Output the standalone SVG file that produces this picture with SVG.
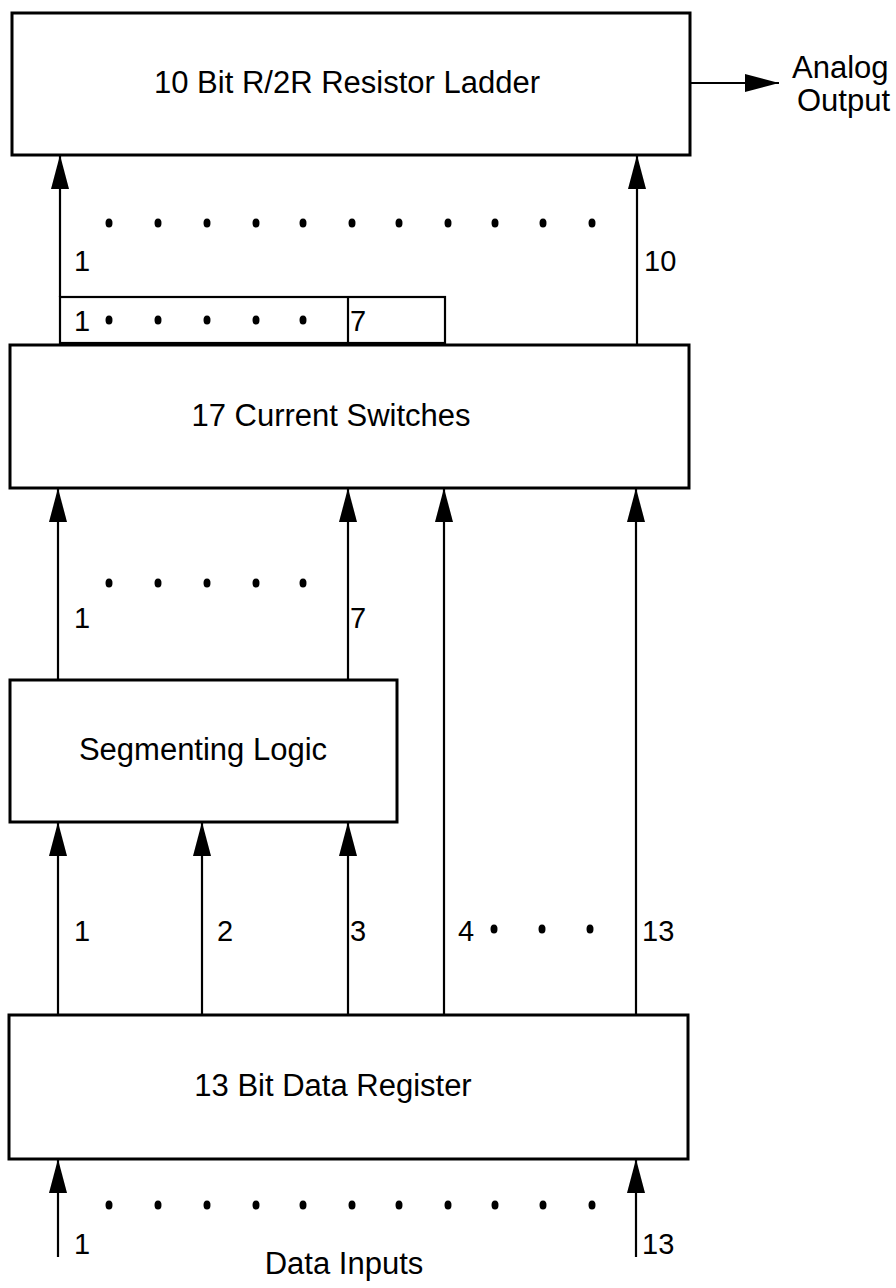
<svg xmlns="http://www.w3.org/2000/svg" width="896" height="1288" viewBox="0 0 896 1288">
  <style>
    .box { fill: #fff; stroke: #000; stroke-width: 3; }
    .wire { fill: none; stroke: #000; stroke-width: 2.2; }
    .title { font-family: "Liberation Sans", Arial, sans-serif; font-size: 31px; fill: #000; text-anchor: middle; }
    .lbl { font-family: "Liberation Sans", Arial, sans-serif; font-size: 29px; fill: #000; }
    .dot { fill: #000; }
  </style>
  <defs>
    <marker id="head" viewBox="0 0 34 18" refX="34" refY="9" markerWidth="34" markerHeight="18" markerUnits="userSpaceOnUse" orient="auto">
      <path d="M0,0 L34,9 L0,18 Z" fill="#000"/>
    </marker>
    <g id="dot"><ellipse class="dot" cx="0" cy="0" rx="3.5" ry="4.5"/></g>
  </defs>

  <!-- blocks -->
  <g id="ladder">
    <rect class="box" x="12" y="13" width="678" height="142"/>
    <text class="title" x="347" y="93">10 Bit R/2R Resistor Ladder</text>
  </g>
  <g id="analog-output">
    <text class="lbl" x="792" y="78" style="font-size:31px">Analog</text>
    <text class="lbl" x="797" y="111" style="font-size:31px">Output</text>
  </g>
  <g id="tap-box">
    <rect class="box" x="60" y="297" width="385" height="46" style="stroke-width:2.2"/>
    <line class="wire" x1="348" y1="297" x2="348" y2="343"/>
    <text class="lbl" x="74" y="331">1</text>
    <text class="lbl" x="350" y="331">7</text>
    <use href="#dot" x="109" y="320"/>
    <use href="#dot" x="158" y="320"/>
    <use href="#dot" x="207" y="320"/>
    <use href="#dot" x="256" y="320"/>
    <use href="#dot" x="303" y="320"/>
  </g>
  <g id="switches">
    <rect class="box" x="10" y="345" width="679" height="143"/>
    <text class="title" x="331" y="426">17 Current Switches</text>
  </g>
  <g id="segmenting">
    <rect class="box" x="10" y="680" width="387" height="142"/>
    <text class="title" x="203" y="760">Segmenting Logic</text>
  </g>
  <g id="register">
    <rect class="box" x="9" y="1015" width="679" height="144"/>
    <text class="title" x="333" y="1096">13 Bit Data Register</text>
  </g>

  <!-- connectors -->
  <g id="connectors">
    <line class="wire" x1="690" y1="83" x2="779" y2="83" marker-end="url(#head)"/>
    <line class="wire" x1="60" y1="297" x2="60" y2="155" marker-end="url(#head)"/>
    <line class="wire" x1="637" y1="345" x2="637" y2="155" marker-end="url(#head)"/>

    <line class="wire" x1="58" y1="680" x2="58" y2="488" marker-end="url(#head)"/>
    <line class="wire" x1="348" y1="680" x2="348" y2="488" marker-end="url(#head)"/>
    <line class="wire" x1="444" y1="1015" x2="444" y2="488" marker-end="url(#head)"/>
    <line class="wire" x1="636" y1="1015" x2="636" y2="488" marker-end="url(#head)"/>

    <line class="wire" x1="58" y1="1015" x2="58" y2="822" marker-end="url(#head)"/>
    <line class="wire" x1="202" y1="1015" x2="202" y2="822" marker-end="url(#head)"/>
    <line class="wire" x1="348" y1="1015" x2="348" y2="822" marker-end="url(#head)"/>

    <line class="wire" x1="58" y1="1257" x2="58" y2="1159" marker-end="url(#head)"/>
    <line class="wire" x1="636" y1="1257" x2="636" y2="1159" marker-end="url(#head)"/>
  </g>

  <!-- bus labels and ellipsis dots -->
  <g id="bus-labels">
    <text class="lbl" x="74" y="271">1</text>
    <text class="lbl" x="644" y="271">10</text>
    <g>
      <use href="#dot" x="109" y="223"/><use href="#dot" x="158" y="223"/><use href="#dot" x="207" y="223"/>
      <use href="#dot" x="256" y="223"/><use href="#dot" x="303" y="223"/><use href="#dot" x="352" y="223"/>
      <use href="#dot" x="399" y="223"/><use href="#dot" x="448" y="223"/><use href="#dot" x="495" y="223"/>
      <use href="#dot" x="543" y="223"/><use href="#dot" x="592" y="223"/>
    </g>

    <text class="lbl" x="74" y="628">1</text>
    <text class="lbl" x="350" y="628">7</text>
    <g>
      <use href="#dot" x="109" y="583"/><use href="#dot" x="158" y="583"/><use href="#dot" x="207" y="583"/>
      <use href="#dot" x="256" y="583"/><use href="#dot" x="303" y="583"/>
    </g>

    <text class="lbl" x="74" y="941">1</text>
    <text class="lbl" x="217" y="941">2</text>
    <text class="lbl" x="350" y="941">3</text>
    <text class="lbl" x="458" y="941">4</text>
    <text class="lbl" x="642" y="941">13</text>
    <g>
      <use href="#dot" x="494" y="929"/><use href="#dot" x="542" y="929"/><use href="#dot" x="590" y="929"/>
    </g>

    <g>
      <use href="#dot" x="109" y="1205"/><use href="#dot" x="158" y="1205"/><use href="#dot" x="207" y="1205"/>
      <use href="#dot" x="256" y="1205"/><use href="#dot" x="303" y="1205"/><use href="#dot" x="352" y="1205"/>
      <use href="#dot" x="399" y="1205"/><use href="#dot" x="448" y="1205"/><use href="#dot" x="495" y="1205"/>
      <use href="#dot" x="543" y="1205"/><use href="#dot" x="592" y="1205"/>
    </g>
    <text class="lbl" x="74" y="1254">1</text>
    <text class="lbl" x="642" y="1254">13</text>
    <text class="title" x="344" y="1274">Data Inputs</text>
  </g>
</svg>
